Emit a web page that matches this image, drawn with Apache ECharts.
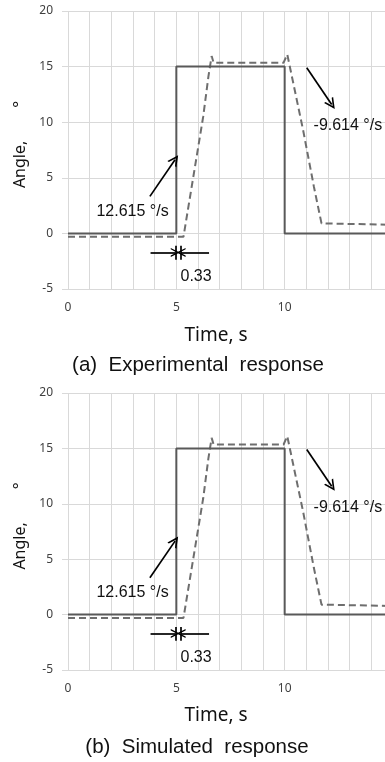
<!DOCTYPE html>
<html>
<head>
<meta charset="utf-8">
<script src="https://cdn.jsdelivr.net/npm/echarts@6/dist/echarts.min.js"></script>
<style>
html,body{margin:0;padding:0;background:#fff;overflow:hidden;width:385px;height:762px;}
#c{width:400px;height:762px;}
</style>
</head>
<body>
<div id="c"></div>
<script>
// ---- data ----
const xRange = [0, 15];
const yRange = [-5, 20];
const xLabelTicks = [0, 5, 10];
// (a) experimental
const expCommand = [[0, 0], [5, 0], [5, 15], [10, 15], [10, 0], [15, 0]];
const expResponse = [[0, -0.3], [5.33, -0.3], [6.24, 10.5], [6.48, 14.1], [6.63, 15.95], [6.72, 15.35], [9.95, 15.35], [10.12, 16.1], [10.85, 9.3], [11.35, 4.2], [11.7, 0.9], [11.75, 0.78], [15, 0.78]];
// (b) simulated
const simCommand = [[0, 0], [5, 0], [5, 15], [10, 15], [10, 0], [15, 0]];
const simResponse = [[0, -0.3], [5.33, -0.3], [6.24, 10.5], [6.48, 14.1], [6.63, 15.95], [6.72, 15.35], [9.95, 15.35], [10.12, 16.1], [10.85, 9.3], [11.35, 4.2], [11.7, 0.9], [11.75, 0.78], [15, 0.78]];
// annotations (data units)
const riseLabel = '12.615 °/s';
const fallLabel = '-9.614 °/s';
const delayLabel = '0.33';
const riseArrow = [[3.78, 3.33], [4.94, 6.63]];
const fallArrow = [[11.02, 14.9], [12.17, 11.59]];
const delayLeftArrow = [[3.81, -1.71], [4.95, -1.71]];
const delayRightArrow = [[6.51, -1.71], [5.22, -1.71]];
const delayBar1 = [[4.97, -1.11], [4.97, -2.37]];
const delayBar2 = [[5.2, -1.11], [5.2, -2.37]];
const riseLabelPos = [2.98, 1.95];
const fallLabelPos = [11.31, 9.7];
const delayLabelPos = [5.17, -3.86];
const captions = ['(a)  Experimental  response', '(b)  Simulated  response'];
const xName = 'Time, s';

// ---- build ----
const chevron = 'path://M0,10 L5,0 L10,10 L8.4,10 L5,3.4 L1.6,10 Z';
const grids = [
  {left: 68, right: 7, top: 11, height: 278},
  {left: 68, right: 7, top: 393, height: 277}
];
function xAx(i) {
  return {
    type: 'value', gridIndex: i, min: xRange[0], max: xRange[1], interval: 1,
    axisLine: {show: false, onZero: false}, axisTick: {show: false},
    splitLine: {show: true, lineStyle: {color: '#d9d9d9', width: 1}},
    axisLabel: {
      margin: 13, color: '#404040', fontSize: 12, fontFamily: 'Noto Sans',
      formatter: v => (xLabelTicks.indexOf(v) >= 0 ? String(v) : '')
    }
  };
}
function yAx(i) {
  return {
    type: 'value', gridIndex: i, min: yRange[0], max: yRange[1], interval: 5,
    axisLine: {show: false, onZero: false},
    axisTick: {show: true, inside: false, length: 6, lineStyle: {color: '#d9d9d9'}},
    splitLine: {show: true, lineStyle: {color: '#d9d9d9', width: 1}},
    axisLabel: {margin: 15, color: '#404040', fontSize: 12, fontFamily: 'Noto Sans'},
    name: '{a|Angle,}{b|°}', nameLocation: 'middle', nameRotate: 90, nameGap: 40,
    nameTextStyle: {
      color: '#111', fontSize: 16, fontFamily: 'Noto Sans',
      rich: {a: {fontSize: 16, fontFamily: 'Noto Sans', color: '#111', padding: [0, 0, 0, 11]},
             b: {fontSize: 16, fontFamily: 'Noto Sans', color: '#111', padding: [0, 0, 0, 33]}}
    }
  };
}
function seg(p, endSymbol, size) {
  return [
    {coord: p[0], symbol: 'none'},
    {coord: p[1], symbol: endSymbol || 'none', symbolSize: size || 10}
  ];
}
function txt(pos, text, position) {
  return {coord: pos, label: {show: true, formatter: text, position: position, distance: 0}};
}
function seriesPair(i, cmd, resp) {
  return [
    {
      type: 'line', xAxisIndex: i, yAxisIndex: i, data: cmd, showSymbol: false, symbol: 'none',
      lineStyle: {color: '#595959', width: 2}, animation: false, silent: true, z: 3
    },
    {
      type: 'line', xAxisIndex: i, yAxisIndex: i, data: resp, showSymbol: false, symbol: 'none',
      lineStyle: {color: '#6e6e6e', width: 2, type: [7, 4]}, animation: false, silent: true, z: 2,
      markLine: {
        silent: true, animation: false, symbolSize: 10,
        label: {show: false}, emphasis: {disabled: true},
        lineStyle: {color: '#000', width: 1.7, type: 'solid'},
        data: [
          seg(riseArrow, chevron, 11),
          seg(fallArrow, chevron, 11),
          seg(delayLeftArrow, chevron, 9),
          seg(delayRightArrow, chevron, 9),
          seg(delayBar1),
          seg(delayBar2)
        ]
      },
      markPoint: {
        silent: true, animation: false, symbol: 'circle', symbolSize: 1,
        itemStyle: {color: 'rgba(0,0,0,0)'},
        label: {color: '#111', fontSize: 16, fontFamily: 'Liberation Sans'},
        data: [
          txt(riseLabelPos, riseLabel, 'inside'),
          txt(fallLabelPos, fallLabel, 'right'),
          txt(delayLabelPos, delayLabel, 'right')
        ]
      }
    }
  ];
}
function gtext(x, y, text, size, family) {
  return {
    type: 'text', x: x, y: y, silent: true,
    style: {text: text, fill: '#111', fontSize: size, fontFamily: family,
            align: 'center', verticalAlign: 'middle', textAlign: 'center', textVerticalAlign: 'middle'}
  };
}
const chart = echarts.init(document.getElementById('c'), null, {renderer: 'canvas', width: 400, height: 762});
chart.setOption({
  animation: false,
  backgroundColor: '#fff',
  grid: grids,
  xAxis: [xAx(0), xAx(1)],
  yAxis: [yAx(0), yAx(1)],
  series: [].concat(seriesPair(0, expCommand, expResponse), seriesPair(1, simCommand, simResponse)),
  graphic: [
    gtext(216, 336, xName, 19, 'Noto Sans'),
    gtext(198, 365, captions[0], 20.5, 'Liberation Sans'),
    gtext(216, 716, xName, 19, 'Noto Sans'),
    gtext(197, 747, captions[1], 20.5, 'Liberation Sans')
  ]
});
</script>
</body>
</html>
